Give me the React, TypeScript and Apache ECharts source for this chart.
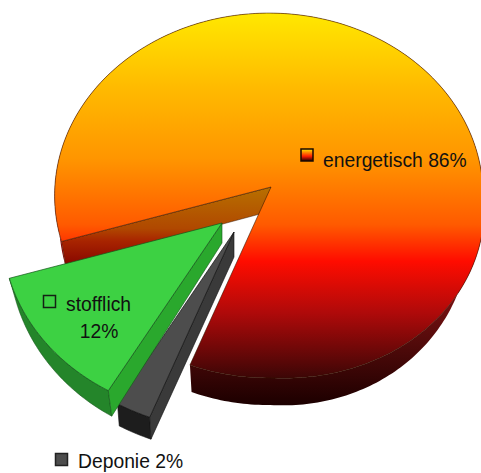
import React, { useEffect, useRef } from "react";
import * as echarts from "echarts";

const categories = ["energetisch", "Deponie", "stofflich"];
const shares = [85.6, 2.45, 11.95];

const START_ANGLE = 163;
const RX = 214;
const RY = 182;
const PERSP_Y = 0.0466;
const PERSP_X = -0.01;
const FONT = '21px "Liberation Sans", Arial, sans-serif';

const G = echarts.graphic.LinearGradient as any;
const vert = (stops: [number, string][], y0 = 13, y1 = 378) =>
  new G(0, y0, 0, y1, stops.map(([offset, color]) => ({ offset, color })), true);

const looks = [
  {
    apex: [271, 187],
    depth: [24, 3],
    scale: 1,
    bulge: 0.035,
    pullLeft: 0.02,
    pullRight: 0.07,
    face: vert([[0, "#ffe800"], [0.2, "#ffbb00"], [0.4, "#ff9500"], [0.58, "#ff5a00"], [0.68, "#ff0c00"], [0.82, "#b00a0a"], [1, "#3c0606"]]),
    side: vert([[0, "#b87000"], [0.5, "#b04800"], [0.65, "#a82400"], [1, "#800000"]], 187, 270),
    outer: vert([[0, "#a00c0c"], [0.45, "#701010"], [1, "#1c0000"]], 230, 405),
    line: "rgba(50,20,0,0.8)",
  },
  {
    apex: [234, 232],
    depth: [25, -3],
    scale: 1.04,
    bulge: 0,
    pullLeft: 0.015,
    pullRight: 0.02,
    face: "#4d4d4d",
    side: "#3a3a3a",
    outer: "#1d1d1d",
    line: "#111111",
  },
  {
    apex: [222, 223],
    depth: [20, 6],
    scale: 1.015,
    bulge: 0,
    pullLeft: 0.03,
    pullRight: 0.02,
    face: "#3dd143",
    side: "#2aa82d",
    outer: "#24852a",
    line: "#14551a",
  },
];

function ringPoint(look: any, deg: number): number[] {
  const t = (deg * Math.PI) / 180;
  const u = Math.cos(t);
  const v = Math.sin(t);
  const lobe = u > 0 && v > 0 ? look.bulge * Math.sin(2 * t) : 0;
  const s = ((1 + lobe) * look.scale) / (1 - PERSP_Y * v - PERSP_X * u);
  return [look.apex[0] + RX * u * s, look.apex[1] + RY * v * s];
}

function lower(p: number[], look: any): number[] {
  const { apex, depth } = look;
  const v = (p[1] - apex[1]) / RY;
  const pull = p[0] > apex[0] ? look.pullRight : look.pullLeft;
  return [p[0] - (p[0] - apex[0]) * pull, p[1] + depth[0] + depth[1] * v];
}

function renderItem(_params: any, api: any) {
  const index = api.value(0);
  const look = looks[index];
  let a0 = START_ANGLE;
  for (let i = 0; i < index; i++) a0 += (shares[i] * 360) / 100;
  const a1 = a0 + (api.value(1) * 360) / 100;
  const apex = look.apex;
  const arc: number[][] = [];
  const steps = Math.ceil(a1 - a0);
  for (let i = 0; i <= steps; i++) arc.push(ringPoint(look, a0 + ((a1 - a0) * i) / steps));
  const arcLow = arc.map((p) => lower(p, look));
  const apexLow = lower(apex, look);
  return {
    type: "group",
    children: [
      {
        type: "polygon",
        shape: { points: arc.concat(arcLow.slice().reverse()) },
        style: { fill: look.outer, stroke: index === 0 ? "none" : look.line, lineWidth: 0.6 },
      },
      {
        type: "polygon",
        shape: { points: [apex, arc[0], arcLow[0], apexLow] },
        style: { fill: look.side, stroke: look.line, lineWidth: 0.6 },
      },
      {
        type: "polygon",
        shape: { points: [apex, ...arc] },
        style: { fill: look.face, stroke: look.line, lineWidth: 0.7 },
      },
    ],
  };
}

const pct = (i: number) => `${Math.round(shares[i])}%`;

const textStyle = (x: number, y: number, text: string, align = "left") => ({
  type: "text",
  z: 10,
  x,
  y,
  scaleX: 0.92,
  style: { x: 0, y: 0, text, font: FONT, fill: "#111111", textAlign: align, textVerticalAlign: "middle" },
});
const keyStyle = (x: number, y: number, fill: any, stroke: string) => ({
  type: "rect",
  z: 10,
  shape: { x, y, width: 12, height: 12 },
  style: { fill, stroke, lineWidth: 1.5 },
});

export default function App() {
  const ref = useRef<HTMLDivElement>(null);
  useEffect(() => {
    document.body.style.margin = "0";
    const chart = echarts.init(ref.current!, null, { renderer: "svg" });
    chart.setOption({
      animation: false,
      backgroundColor: "#ffffff",
      series: [
        {
          type: "custom",
          coordinateSystem: "none",
          silent: true,
          renderItem,
          data: categories.map((_c, i) => [i, shares[i]]),
        },
      ],
      graphic: [
        keyStyle(301, 149, new G(0, 0, 0, 1, [
          { offset: 0, color: "#ffe800" },
          { offset: 0.6, color: "#ff2000" },
          { offset: 1, color: "#200000" },
        ]), "#1a0a00"),
        textStyle(323, 160, `${categories[0]} ${pct(0)}`),
        keyStyle(43.5, 295.5, "#3dd143", "#142014"),
        textStyle(66, 304, categories[2]),
        textStyle(99, 331, pct(2), "center"),
        keyStyle(55.5, 453.5, "#4d4d4d", "#222222"),
        textStyle(78, 461, `${categories[1]} ${pct(1)}`),
      ],
    });
    return () => chart.dispose();
  }, []);
  return <div ref={ref} style={{ width: 481, height: 473, display: "block", overflow: "hidden" }} />;
}
